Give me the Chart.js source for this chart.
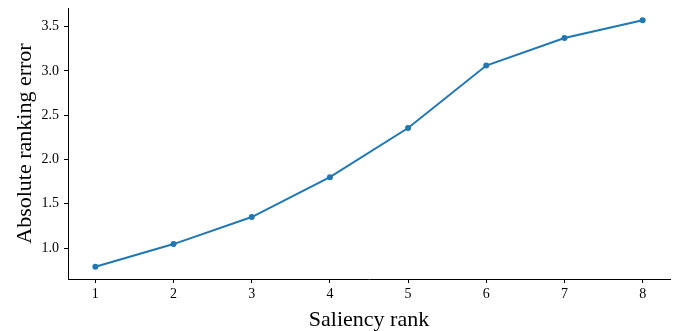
<!DOCTYPE html>
<html>
<head>
<meta charset="utf-8">
<style>
  html, body { margin: 0; padding: 0; background: #fff; }
  #wrap { width: 680px; height: 331px; }
</style>
</head>
<body>
<div id="wrap"><canvas id="rankChart" width="680" height="331"></canvas></div>
<script src="https://cdn.jsdelivr.net/npm/chart.js"></script>
<script>
// Saliency rank vs absolute ranking error
const ranks = [1, 2, 3, 4, 5, 6, 7, 8];
const rankErrors = [0.79, 1.045, 1.35, 1.80, 2.355, 3.06, 3.37, 3.57];
const yTickValues = [1.0, 1.5, 2.0, 2.5, 3.0, 3.5];

const serif = "'Liberation Serif', 'Times New Roman', serif";

new Chart(document.getElementById('rankChart'), {
    type: 'line',
    data: {
        datasets: [{
            data: ranks.map((r, i) => ({ x: r, y: rankErrors[i] })),
            borderColor: '#1f77b4',
            backgroundColor: '#1f77b4',
            borderWidth: 2,
            pointRadius: 3,
            pointBorderWidth: 0,
            tension: 0
        }]
    },
    options: {
        responsive: false,
        animation: false,
        layout: { padding: { top: 8, right: 10, left: 0, bottom: 0 } },
        plugins: {
            legend: { display: false },
            tooltip: { enabled: false }
        },
        scales: {
            x: {
                type: 'linear',
                min: 0.65,
                max: 8.35,
                afterBuildTicks: function(scale) {
                    scale.ticks = ranks.map(v => ({ value: v }));
                },
                afterFit: function(scale) {
                    scale.height = 52;
                    scale.paddingLeft = 0;
                    scale.paddingRight = 0;
                },
                ticks: {
                    color: '#000',
                    font: { family: serif, size: 14 },
                    padding: 3,
                    maxRotation: 0,
                    callback: v => String(v)
                },
                grid: {
                    drawOnChartArea: false,
                    drawTicks: true,
                    tickLength: 4,
                    color: '#000'
                },
                border: { display: true, color: '#000', width: 1 },
                title: {
                    display: true,
                    text: 'Saliency rank',
                    color: '#000',
                    font: { family: serif, size: 22, lineHeight: 1 },
                    padding: { top: 0, bottom: 0 }
                }
            },
            y: {
                type: 'linear',
                min: 0.651,
                max: 3.709,
                afterBuildTicks: function(scale) {
                    scale.ticks = yTickValues.map(v => ({ value: v }));
                },
                afterFit: function(scale) {
                    scale.width = 68;
                    scale.paddingTop = 0;
                    scale.paddingBottom = 0;
                },
                ticks: {
                    color: '#000',
                    font: { family: serif, size: 14 },
                    padding: 5,
                    callback: v => v.toFixed(1)
                },
                grid: {
                    drawOnChartArea: false,
                    drawTicks: true,
                    tickLength: 4,
                    color: '#000'
                },
                border: { display: true, color: '#000', width: 1 },
                title: {
                    display: true,
                    text: 'Absolute ranking error',
                    color: '#000',
                    font: { family: serif, size: 22, lineHeight: 1 },
                    padding: { top: 14, bottom: 0 }
                }
            }
        }
    }
});
</script>
</body>
</html>
